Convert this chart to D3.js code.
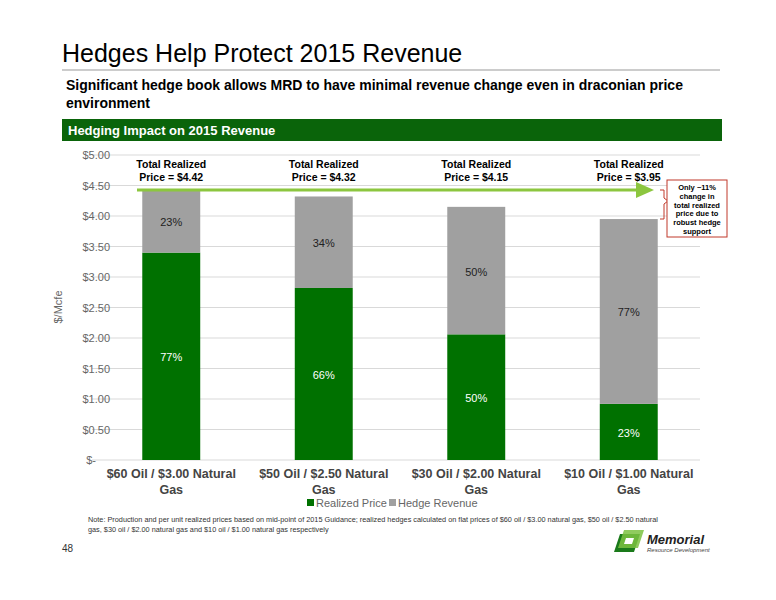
<!DOCTYPE html>
<html><head><meta charset="utf-8">
<script src="https://cdn.jsdelivr.net/npm/d3@7"></script>
<style>body{margin:0;background:#fff}text{font-family:"Liberation Sans",Arial,sans-serif}</style>
</head><body><div id="chart"></div>
<script>
var categories = ['$60 Oil / $3.00 Natural Gas', '$50 Oil / $2.50 Natural Gas', '$30 Oil / $2.00 Natural Gas', '$10 Oil / $1.00 Natural Gas'];
var realized = [3.40, 2.82, 2.06, 0.92];
var totals = [4.42, 4.32, 4.15, 3.95];
var realizedPct = ['77%', '66%', '50%', '23%'];
var hedgePct = ['23%', '34%', '50%', '77%'];
var yTicks = [0, 0.5, 1, 1.5, 2, 2.5, 3, 3.5, 4, 4.5, 5];

var svg = d3.select('#chart').append('svg').attr('width', 776).attr('height', 600);

svg.append('text').attr('x', 62).attr('y', 62).attr('font-size', 25).attr('fill', '#000').text('Hedges Help Protect 2015 Revenue');
svg.append('line').attr('x1', 62).attr('x2', 720).attr('y1', 70).attr('y2', 70).attr('stroke', '#999');
svg.append('text').attr('x', 66).attr('y', 90).attr('font-size', 14).attr('font-weight', 'bold').text('Significant hedge book allows MRD to have minimal revenue change even in draconian price');
svg.append('text').attr('x', 66).attr('y', 108).attr('font-size', 14).attr('font-weight', 'bold').text('environment');
svg.append('rect').attr('x', 62).attr('y', 119).attr('width', 660).attr('height', 22).attr('fill', '#0a640a');
svg.append('text').attr('x', 68).attr('y', 135).attr('font-size', 13).attr('font-weight', 'bold').attr('fill', '#fff').text('Hedging Impact on 2015 Revenue');

var x = d3.scaleBand().domain(categories).range([95, 705]).paddingInner(0.62).paddingOuter(0.31);
var y = d3.scaleLinear().domain([0, 5]).range([460, 155]);

svg.append('g').selectAll('line').data(yTicks).join('line')
  .attr('x1', 92).attr('x2', 700).attr('y1', d => y(d)).attr('y2', d => y(d))
  .attr('stroke', '#d9d9d9');

var yAxis = svg.append('g').attr('transform', 'translate(112,0)')
  .call(d3.axisLeft(y).tickValues(yTicks).tickSize(0).tickFormat(d => d === 0 ? '$-' : '$' + d.toFixed(2)));
yAxis.select('.domain').remove();
yAxis.selectAll('text').attr('font-size', 11).attr('fill', '#666').attr('x', -2);
yAxis.selectAll('.tick').filter(d => d === 0).select('text').attr('x', -16);
svg.append('text').attr('transform', 'translate(62,307) rotate(-90)').attr('text-anchor', 'middle').attr('font-size', 11).attr('fill', '#666').text('$/Mcfe');

var bw = x.bandwidth();
svg.append('g').selectAll('rect').data(categories).join('rect')
  .attr('x', d => x(d)).attr('width', bw)
  .attr('y', (d, i) => y(realized[i])).attr('height', (d, i) => y(0) - y(realized[i]))
  .attr('fill', '#007100');
svg.append('g').selectAll('rect').data(categories).join('rect')
  .attr('x', d => x(d)).attr('width', bw)
  .attr('y', (d, i) => y(totals[i])).attr('height', (d, i) => y(realized[i]) - y(totals[i]))
  .attr('fill', '#a0a0a0');

svg.append('g').selectAll('text').data(categories).join('text')
  .attr('x', d => x(d) + bw / 2).attr('y', (d, i) => y(realized[i] / 2) + 5)
  .attr('text-anchor', 'middle').attr('font-size', 11).attr('fill', '#fff').text((d, i) => realizedPct[i]);
svg.append('g').selectAll('text').data(categories).join('text')
  .attr('x', d => x(d) + bw / 2).attr('y', (d, i) => y((realized[i] + totals[i]) / 2) + 5)
  .attr('text-anchor', 'middle').attr('font-size', 11).attr('fill', '#222').text((d, i) => hedgePct[i]);

var tl = svg.append('g').selectAll('text').data(categories).join('text')
  .attr('text-anchor', 'middle').attr('font-size', 10.5).attr('font-weight', 'bold');
tl.append('tspan').attr('x', d => x(d) + bw / 2).attr('y', 168).text('Total Realized');
tl.append('tspan').attr('x', d => x(d) + bw / 2).attr('y', 181).text((d, i) => 'Price = $' + totals[i].toFixed(2));

var cl = svg.append('g').selectAll('text').data(categories).join('text')
  .attr('text-anchor', 'middle').attr('font-size', 12.5).attr('font-weight', 'bold').attr('fill', '#444');
cl.append('tspan').attr('x', d => x(d) + bw / 2).attr('y', 478).text(d => d.replace(/ Gas$/, ''));
cl.append('tspan').attr('x', d => x(d) + bw / 2).attr('y', 494).text('Gas');

// arrow
svg.append('line').attr('x1', 137).attr('x2', 640).attr('y1', 190).attr('y2', 190).attr('stroke', '#8cc63f').attr('stroke-width', 3);
svg.append('path').attr('d', 'M636,182 L654,190 L636,198 Z').attr('fill', '#8cc63f');
svg.append('path').attr('d', 'M660,190 h4 v8 l4,3 l-4,3 v15 h-4').attr('fill', 'none').attr('stroke', '#c0392b');
svg.append('rect').attr('x', 667).attr('y', 180).attr('width', 60).attr('height', 57).attr('fill', '#fff').attr('stroke', '#c0392b');
['Only ~11%', 'change in', 'total realized', 'price due to', 'robust hedge', 'support'].forEach(function (t, i) {
  svg.append('text').attr('x', 697).attr('y', 190 + i * 8.8).attr('text-anchor', 'middle').attr('font-size', 7.5).attr('font-weight', 'bold').text(t);
});

// legend
svg.append('rect').attr('x', 307).attr('y', 499).attr('width', 7).attr('height', 7).attr('fill', '#007100');
svg.append('text').attr('x', 316).attr('y', 507).attr('font-size', 11).attr('fill', '#666').text('Realized Price');
svg.append('rect').attr('x', 389).attr('y', 499).attr('width', 7).attr('height', 7).attr('fill', '#a0a0a0');
svg.append('text').attr('x', 398).attr('y', 507).attr('font-size', 11).attr('fill', '#666').text('Hedge Revenue');

svg.append('text').attr('x', 88).attr('y', 522).attr('font-size', 7.3).attr('fill', '#333').text('Note: Production and per unit realized prices based on mid-point of 2015 Guidance; realized hedges calculated on flat prices of $60 oil / $3.00 natural gas, $50 oil / $2.50 natural');
svg.append('text').attr('x', 88).attr('y', 532).attr('font-size', 7.3).attr('fill', '#333').text('gas, $30 oil / $2.00 natural gas and $10 oil / $1.00 natural gas respectively');
svg.append('text').attr('x', 62).attr('y', 552).attr('font-size', 10).attr('fill', '#333').text('48');

// logo
var lg = svg.append('g').attr('transform', 'translate(614,530)');
lg.append('path').attr('d', 'M6,4 L26,4 L20,22 L0,22 Z').attr('fill', '#1a7a1a');
lg.append('path').attr('d', 'M10,0 L30,0 L24,18 L4,18 Z').attr('fill', '#7cc242').attr('opacity', 0.85);
lg.append('path').attr('d', 'M12,8 L20,8 L18,14 L10,14 Z').attr('fill', '#fff');
lg.append('text').attr('x', 33).attr('y', 14).attr('font-size', 13).attr('font-style', 'italic').attr('font-weight', 'bold').attr('fill', '#222').text('Memorial');
lg.append('text').attr('x', 33).attr('y', 22).attr('font-size', 6).attr('font-style', 'italic').attr('fill', '#444').text('Resource Development');
</script></body></html>
